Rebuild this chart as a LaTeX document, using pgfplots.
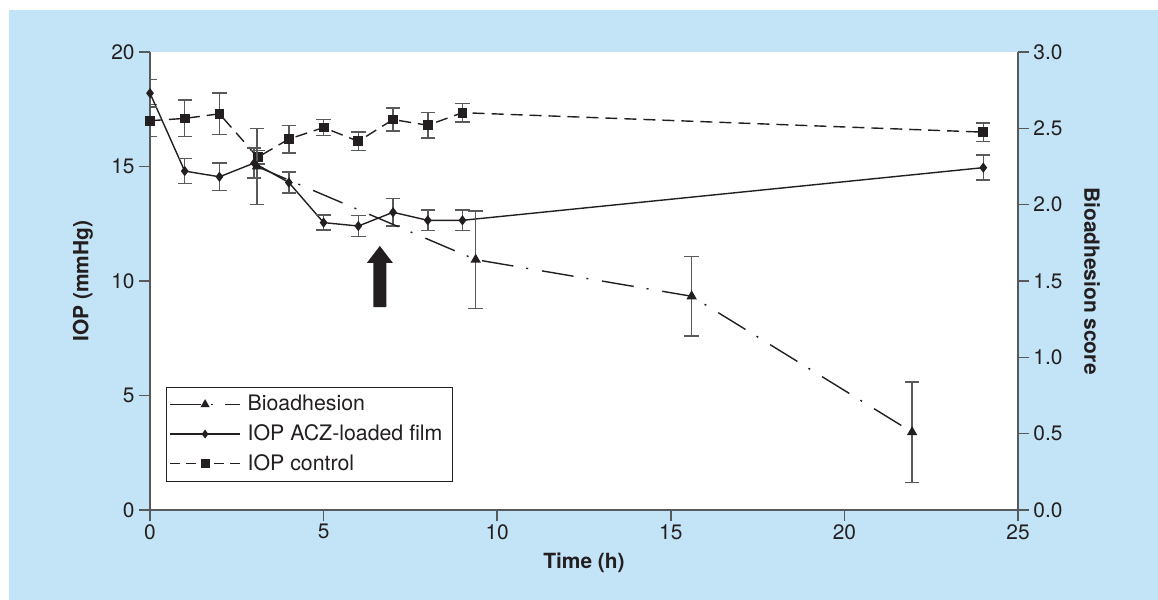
\documentclass[border=0pt]{standalone}
\usepackage{fontspec}
\setmainfont{TeX Gyre Heros}
\usepackage{pgfplots}
\usepackage{pgfplotstable}
\pgfplotsset{compat=1.18}

\definecolor{bgblue}{HTML}{C3E4F6}
\definecolor{ink}{HTML}{231F20}
\definecolor{axgray}{HTML}{58595B}

% IOP control (mmHg)
\pgfplotstableread{
x    y     e
0    17.0  0.7
1    17.1  0.8
2    17.3  0.9
3.1  15.4  0.3
4    16.2  0.6
5    16.7  0.35
6    16.1  0.4
7    17.05 0.5
8    16.8  0.55
9    17.35 0.4
24   16.5  0.4
}\ctrl

% IOP ACZ-loaded film (mmHg)
\pgfplotstableread{
x    y     e
0    18.2  0.6
1    14.8  0.55
2    14.55 0.6
3    15.15 0.65
4    14.3  0.45
5    12.55 0.33
6    12.4  0.45
7    13.0  0.6
8    12.65 0.45
9    12.65 0.45
24   14.95 0.55
}\acz

% Bioadhesion score
\pgfplotstableread{
x     y     e
3.08  2.25  0.25
9.38  1.64  0.32
15.6  1.40  0.26
21.95 0.51  0.33
}\bio

\pgfplotsset{
  base/.style={
    scale only axis, width=434bp, height=229bp,
    xmin=0, xmax=25,
    font=\fontsize{10.5}{12}\selectfont,
    /pgf/number format/assume math mode=true,
    tick align=outside, major tick length=5.5bp,
    axis line style={axgray, line width=0.8bp, -},
    tick style={axgray, line width=0.8bp},
    tick label style={ink},
  },
  errs/.style={/pgfplots/error bars/.cd, y dir=both, y explicit,
    error bar style={axgray, solid, line width=0.75bp},
    error mark options={rotate=90, mark size=3.6bp, axgray, solid, line width=0.75bp},
    /pgfplots/.cd},
}

\begin{document}
\begin{tikzpicture}
\fill[bgblue] (-70.5bp,-45bp) rectangle (504bp,250bp);
\fill[white] (0bp,0bp) rectangle (434bp,229bp);
\useasboundingbox (-75bp,-45bp) rectangle (504bp,255bp);

\begin{axis}[base,
    ymin=0, ymax=20,
    axis x line*=bottom, axis y line*=left,
    xtick={0,5,...,25}, ytick={0,5,...,20},
    xticklabel style={inner ysep=1.5bp},
    yticklabel style={inner xsep=2bp},
    xlabel={\bfseries Time (h)},
    ylabel={\bfseries IOP (mmHg)},
    every axis x label/.style={at={(axis description cs:0.5,0)}, anchor=center, yshift=-26.5bp, ink},
    every axis y label/.style={at={(axis description cs:-0.0772,0.5)}, rotate=90, anchor=center, ink},
]
\addplot[ink, line width=0.7bp, dash pattern=on 6bp off 3.5bp,
  mark=square*, mark size=2.1bp, mark options={solid, fill=ink}, errs]
  table[x=x, y=y, y error=e] {\ctrl};
\addplot[ink, line width=0.7bp, solid,
  mark=diamond*, mark size=2bp, mark options={solid, fill=ink}, errs]
  table[x=x, y=y, y error=e] {\acz};
% arrow
\fill[ink] (axis cs:6.43,8.86) -- (axis cs:6.43,10.79) -- (axis cs:6.246,10.79)
  -- (axis cs:6.62,11.53) -- (axis cs:6.994,10.79) -- (axis cs:6.81,10.79)
  -- (axis cs:6.81,8.86) -- cycle;
\end{axis}

\begin{axis}[base,
    ymin=0, ymax=3,
    axis x line=none, axis y line*=right,
    ytick={0,0.5,...,3},
    yticklabel style={inner xsep=2bp, /pgf/number format/.cd, fixed, fixed zerofill, precision=1},
    ylabel={\bfseries Bioadhesion score},
    every axis y label/.style={at={(axis description cs:1.0853,0.5)}, rotate=-90, anchor=center, ink},
    legend style={at={(axis description cs:0.0184,0.2686)}, anchor=north west,
      draw=ink, line width=0.5bp, fill=white, text=ink,
      inner xsep=1.5bp, inner ysep=1.2bp, row sep=0pt,
      nodes={inner xsep=3.5bp, inner ysep=2.7bp},
      font=\fontsize{10.7}{12}\selectfont},
    legend cell align=left,
]
\addplot[ink, line width=0.7bp, dash pattern=on 16bp off 6.5bp on 1bp off 7bp,
  mark=triangle*, mark size=2.3bp, mark options={solid, fill=ink},
  legend image code/.code={
    \draw[solid, ink, line width=0.6bp] (0bp,0bp) -- (15.5bp,0bp);
    \draw[solid, ink, line width=0.6bp] (20.5bp,0bp) -- (21.5bp,0bp) (27.5bp,0bp) -- (35bp,0bp);
    \draw[ink, fill=ink, solid, mark=triangle*, mark size=2bp, only marks] plot coordinates {(17.5bp,0bp)};
  }, errs]
  table[x=x, y=y, y error=e] {\bio};
\addlegendentry{Bioadhesion}
\addlegendimage{legend image code/.code={
    \draw[solid, ink, line width=0.6bp] (0bp,0bp) -- (35bp,0bp);
    \draw[ink, fill=ink, solid, mark=diamond*, mark size=1.8bp, only marks] plot coordinates {(17.5bp,0bp)};
  }}
\addlegendentry{IOP ACZ-loaded film}
\addlegendimage{legend image code/.code={
    \draw[solid, ink, line width=0.6bp] (0bp,0bp) -- (5bp,0bp) (8bp,0bp) -- (13bp,0bp)
      (22bp,0bp) -- (27bp,0bp) (30bp,0bp) -- (35bp,0bp);
    \draw[ink, fill=ink, solid, mark=square*, mark size=2bp, only marks] plot coordinates {(17.5bp,0bp)};
  }}
\addlegendentry{IOP control}
\end{axis}
\end{tikzpicture}
\end{document}
